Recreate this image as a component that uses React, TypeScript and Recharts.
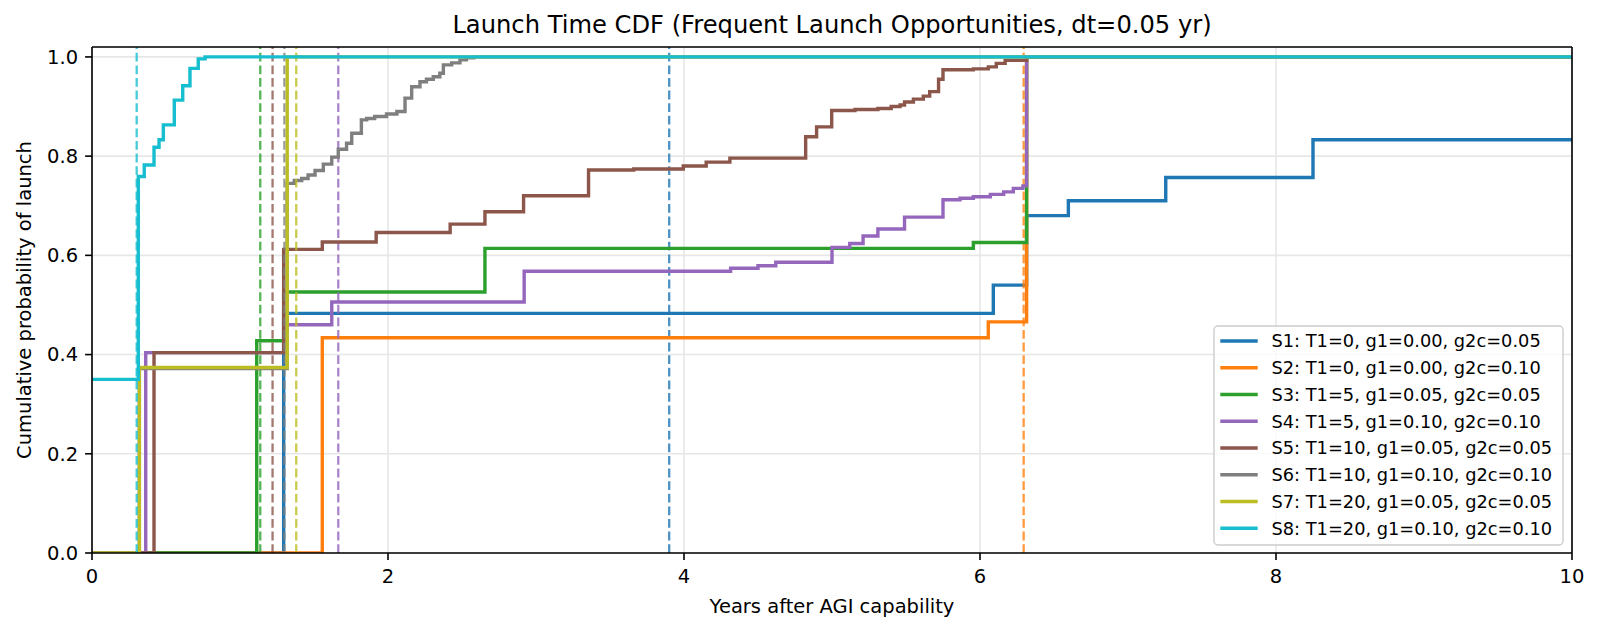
import React from 'react';
import { LineChart, Line, XAxis, YAxis, CartesianGrid, ReferenceLine } from 'recharts';

// ---------- data ----------
const xTicks = [0, 2, 4, 6, 8, 10];
const yTicks = [0, 0.2, 0.4, 0.6, 0.8, 1.0];
const X_MAX = 10;
const Y_MAX = 1.02;

const seriesNames = [
  'S1: T1=0, g1=0.00, g2c=0.05',
  'S2: T1=0, g1=0.00, g2c=0.10',
  'S3: T1=5, g1=0.05, g2c=0.05',
  'S4: T1=5, g1=0.10, g2c=0.10',
  'S5: T1=10, g1=0.05, g2c=0.05',
  'S6: T1=10, g1=0.10, g2c=0.10',
  'S7: T1=20, g1=0.05, g2c=0.05',
  'S8: T1=20, g1=0.10, g2c=0.10',
];
const seriesColors = ['#1f77b4', '#ff7f0e', '#2ca02c', '#9467bd', '#8c564b', '#7f7f7f', '#bcbd22', '#17becf'];
const medianYears = [3.9, 6.295, 1.137, 1.664, 1.22, 1.3, 1.38, 0.302];

const s1Years = [0, 1.295, 6.09, 6.315, 6.597, 7.255, 8.25];
const s1Cdf = [0, 0.483, 0.54, 0.68, 0.71, 0.757, 0.833];

const s2Years = [0, 1.556, 6.056, 6.315];
const s2Cdf = [0, 0.434, 0.466, 1.0];

const s3Years = [0, 1.113, 1.295, 2.655, 5.955, 6.315];
const s3Cdf = [0, 0.428, 0.526, 0.614, 0.626, 1.0];

const s4Years = [0, 0.363, 1.295, 1.62, 2.92, 4.315, 4.5, 4.62, 5.0, 5.12, 5.21, 5.31, 5.49, 5.75, 5.865, 5.955, 6.07, 6.16, 6.225, 6.29, 6.315];
const s4Cdf = [0, 0.404, 0.46, 0.506, 0.568, 0.574, 0.579, 0.586, 0.616, 0.624, 0.639, 0.653, 0.677, 0.712, 0.715, 0.718, 0.723, 0.728, 0.735, 0.74, 1.0];

const s5Years = [0, 0.419, 1.295, 1.556, 1.92, 2.42, 2.655, 2.916, 3.355, 3.66, 3.995, 4.15, 4.31, 4.822, 4.896, 4.998, 5.155, 5.31, 5.4, 5.46, 5.49, 5.55, 5.617, 5.66, 5.72, 5.75, 5.955, 6.056, 6.11, 6.17, 6.315];
const s5Cdf = [0, 0.404, 0.612, 0.627, 0.646, 0.663, 0.688, 0.72, 0.772, 0.774, 0.78, 0.788, 0.796, 0.839, 0.859, 0.892, 0.894, 0.896, 0.9, 0.903, 0.909, 0.915, 0.921, 0.93, 0.955, 0.974, 0.976, 0.98, 0.987, 0.993, 1.0];

const s6Years = [0, 0.32, 1.319, 1.367, 1.417, 1.46, 1.507, 1.563, 1.62, 1.664, 1.72, 1.755, 1.82, 1.856, 1.91, 1.99, 2.06, 2.115, 2.16, 2.216, 2.26, 2.306, 2.35, 2.374, 2.43, 2.486, 2.53, 2.58];
const s6Cdf = [0, 0.372, 0.745, 0.751, 0.755, 0.762, 0.771, 0.784, 0.798, 0.814, 0.826, 0.846, 0.873, 0.876, 0.88, 0.885, 0.89, 0.917, 0.94, 0.95, 0.955, 0.96, 0.967, 0.984, 0.988, 0.994, 0.998, 1.0];

const s7Years = [0, 0.32, 1.319];
const s7Cdf = [0, 0.374, 1.0];

const s8Years = [0, 0.313, 0.353, 0.419, 0.453, 0.482, 0.556, 0.613, 0.662, 0.718, 0.764];
const s8Cdf = [0.35, 0.759, 0.782, 0.818, 0.833, 0.863, 0.913, 0.942, 0.977, 0.996, 1.0];

const seriesYears = [s1Years, s2Years, s3Years, s4Years, s5Years, s6Years, s7Years, s8Years];
const seriesCdf = [s1Cdf, s2Cdf, s3Cdf, s4Cdf, s5Cdf, s6Cdf, s7Cdf, s8Cdf];

const buildSeries = (xs: number[], ys: number[]) => {
  const pts = xs.map((x, i) => ({ x, y: ys[i] }));
  pts.push({ x: X_MAX, y: ys[ys.length - 1] });
  return pts;
};
const seriesData = seriesYears.map((xs, i) => buildSeries(xs, seriesCdf[i]));

// ---------- style ----------
const FONT = '"DejaVu Sans", sans-serif';
const W = 1600;
const H = 634;
const tickStyle = { fill: '#000', fontSize: 19.5, fontFamily: FONT };
const axisStroke = { stroke: '#000', strokeWidth: 1.6 };

export default function App() {
  const children: React.ReactNode[] = [];
  seriesData.forEach((d, i) => {
    children.push(
      <Line
        key={`l${i}`}
        data={d}
        dataKey="y"
        name={seriesNames[i]}
        type="stepAfter"
        stroke={seriesColors[i]}
        strokeWidth={3.4}
        dot={false}
        activeDot={false}
        isAnimationActive={false}
      />
    );
    children.push(
      <ReferenceLine
        key={`r${i}`}
        x={medianYears[i]}
        stroke={seriesColors[i]}
        strokeWidth={2.3}
        strokeOpacity={0.8}
        strokeDasharray="8.8 3.8"
      />
    );
  });

  const legendTop = 326;
  const legendRow = 26.76;

  return (
    <div style={{ position: 'relative', width: W, height: H, background: '#fff', fontFamily: FONT }}>
      <style>{`body{margin:0;}`}</style>
      <LineChart width={W} height={H} margin={{ top: 47, right: 28, bottom: 41, left: 32 }}>
        <CartesianGrid stroke="#e7e7e7" strokeWidth={1.6} />
        <XAxis
          type="number"
          dataKey="x"
          domain={[0, X_MAX]}
          ticks={xTicks}
          interval={0}
          allowDataOverflow
          height={40}
          tickSize={6.9}
          tickMargin={9}
          tick={tickStyle}
          tickLine={axisStroke}
          axisLine={axisStroke}
        />
        <YAxis
          type="number"
          domain={[0, Y_MAX]}
          ticks={yTicks}
          interval={0}
          allowDataOverflow
          width={60}
          tickSize={6.9}
          tickMargin={7}
          tick={tickStyle}
          tickFormatter={(v: number) => v.toFixed(1)}
          tickLine={axisStroke}
          axisLine={axisStroke}
        />
        {children}
        <ReferenceLine y={Y_MAX} stroke="#000" strokeWidth={1.6} />
        <ReferenceLine x={X_MAX} stroke="#000" strokeWidth={1.6} />
      </LineChart>
      <svg width={W} height={H} style={{ position: 'absolute', left: 0, top: 0, pointerEvents: 'none' }}>
        <text x={832} y={33} textAnchor="middle" fontSize={24.2} fontFamily={FONT} fill="#000">
          Launch Time CDF (Frequent Launch Opportunities, dt=0.05 yr)
        </text>
        <text x={832} y={613} textAnchor="middle" fontSize={19.5} fontFamily={FONT} fill="#000">
          Years after AGI capability
        </text>
        <text x={31} y={300} textAnchor="middle" fontSize={19.5} fontFamily={FONT} fill="#000" transform="rotate(-90 31 300)">
          Cumulative probability of launch
        </text>
        <rect x={1214} y={legendTop} width={349} height={219} rx={4} ry={4} fill="#fff" fillOpacity={0.8} stroke="#cccccc" strokeWidth={1.4} />
        {seriesNames.map((n, i) => {
          const cy = legendTop + 15 + i * legendRow;
          return (
            <g key={n}>
              <line x1={1222} x2={1256} y1={cy} y2={cy} stroke={seriesColors[i]} strokeWidth={3.4} strokeLinecap="square" />
              <text x={1271.5} y={cy + 6.3} fontSize={17.8} fontFamily={FONT} fill="#000">
                {n}
              </text>
            </g>
          );
        })}
      </svg>
    </div>
  );
}
